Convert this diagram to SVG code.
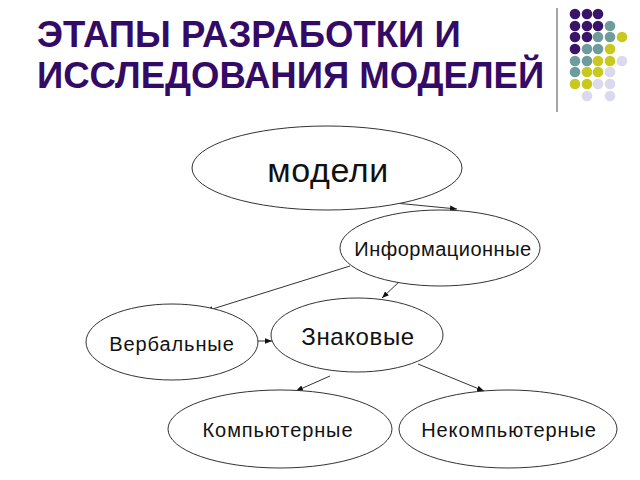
<svg xmlns="http://www.w3.org/2000/svg" width="640" height="480" viewBox="0 0 640 480">
<defs>
<marker id="ah" viewBox="0 0 10 10" refX="10" refY="5" markerWidth="7" markerHeight="7" markerUnits="userSpaceOnUse" orient="auto">
<path d="M0,1 L10,5 L0,9 z" fill="#111"/>
</marker>
</defs>
<style>
.title{font-family:"Liberation Sans",Arial,sans-serif;font-weight:bold;font-size:36.5px;fill:#330a66}
.node ellipse{fill:#fff;stroke:#333;stroke-width:1}
.node text{font-family:"Liberation Sans",Arial,sans-serif;fill:#111;text-anchor:middle}
.sm{font-size:20px;letter-spacing:0.9px}
.conn line{stroke:#333;stroke-width:1;marker-end:url(#ah)}
.p{fill:#3a1468}.t{fill:#6e9c9c}.y{fill:#c8c81e}.l{fill:#dadaee}
</style>
<rect width="640" height="480" fill="#fff"/>
<text class="title" x="37" y="47">ЭТАПЫ РАЗРАБОТКИ И</text>
<text class="title" x="37" y="88">ИССЛЕДОВАНИЯ МОДЕЛЕЙ</text>
<line x1="557" y1="8" x2="557" y2="112" stroke="#888" stroke-width="1.5"/>
<g id="dots">
<circle class="p" cx="575" cy="14" r="5.3"/><circle class="p" cx="587" cy="14" r="5.3"/><circle class="p" cx="598" cy="14" r="5.3"/>
<circle class="p" cx="575" cy="26" r="5.3"/><circle class="p" cx="587" cy="26" r="5.3"/><circle class="p" cx="598" cy="26" r="5.3"/><circle class="t" cx="610" cy="26" r="5.3"/>
<circle class="p" cx="575" cy="37" r="5.3"/><circle class="p" cx="587" cy="37" r="5.3"/><circle class="t" cx="598" cy="37" r="5.3"/><circle class="t" cx="610" cy="37" r="5.3"/><circle class="y" cx="622" cy="37" r="5.3"/>
<circle class="p" cx="575" cy="49" r="5.3"/><circle class="t" cx="587" cy="49" r="5.3"/><circle class="t" cx="598" cy="49" r="5.3"/><circle class="y" cx="610" cy="49" r="5.3"/>
<circle class="t" cx="575" cy="61" r="5.3"/><circle class="t" cx="587" cy="61" r="5.3"/><circle class="y" cx="598" cy="61" r="5.3"/><circle class="y" cx="610" cy="61" r="5.3"/><circle class="l" cx="622" cy="61" r="5.3"/>
<circle class="t" cx="575" cy="72" r="5.3"/><circle class="y" cx="587" cy="72" r="5.3"/><circle class="y" cx="598" cy="72" r="5.3"/><circle class="l" cx="610" cy="72" r="5.3"/>
<circle class="y" cx="575" cy="84" r="5.3"/><circle class="y" cx="587" cy="84" r="5.3"/><circle class="l" cx="598" cy="84" r="5.3"/><circle class="l" cx="610" cy="84" r="5.3"/>
<circle class="l" cx="587" cy="96" r="5.3"/><circle class="l" cx="610" cy="96" r="5.3"/>
</g>
<g id="connectors" class="conn">
<line x1="395" y1="203" x2="457" y2="209"/>
<line x1="350" y1="266" x2="206" y2="311"/>
<line x1="400" y1="281" x2="382" y2="298"/>
<line x1="258" y1="341" x2="272" y2="341"/>
<line x1="330" y1="376" x2="296" y2="391"/>
<line x1="418" y1="364" x2="484" y2="391"/>
</g>
<g id="modeli" class="node"><ellipse cx="327" cy="168" rx="135" ry="42"/><text x="328" y="182" font-size="34" letter-spacing="0.6">модели</text></g>
<g id="inform" class="node"><ellipse cx="440" cy="248" rx="100" ry="38"/><text class="sm" x="443" y="256" style="letter-spacing:0.5px">Информационные</text></g>
<g id="znak" class="node"><ellipse cx="357" cy="335" rx="86" ry="37"/><text x="358" y="345" font-size="24" letter-spacing="0.6">Знаковые</text></g>
<g id="verb" class="node"><ellipse cx="172" cy="342" rx="86" ry="38"/><text class="sm" x="172" y="351">Вербальные</text></g>
<g id="komp" class="node"><ellipse cx="280" cy="429" rx="112" ry="39"/><text class="sm" x="278" y="437">Компьютерные</text></g>
<g id="nekomp" class="node"><ellipse cx="508" cy="429" rx="109" ry="39"/><text class="sm" x="509" y="437">Некомпьютерные</text></g>
</svg>
